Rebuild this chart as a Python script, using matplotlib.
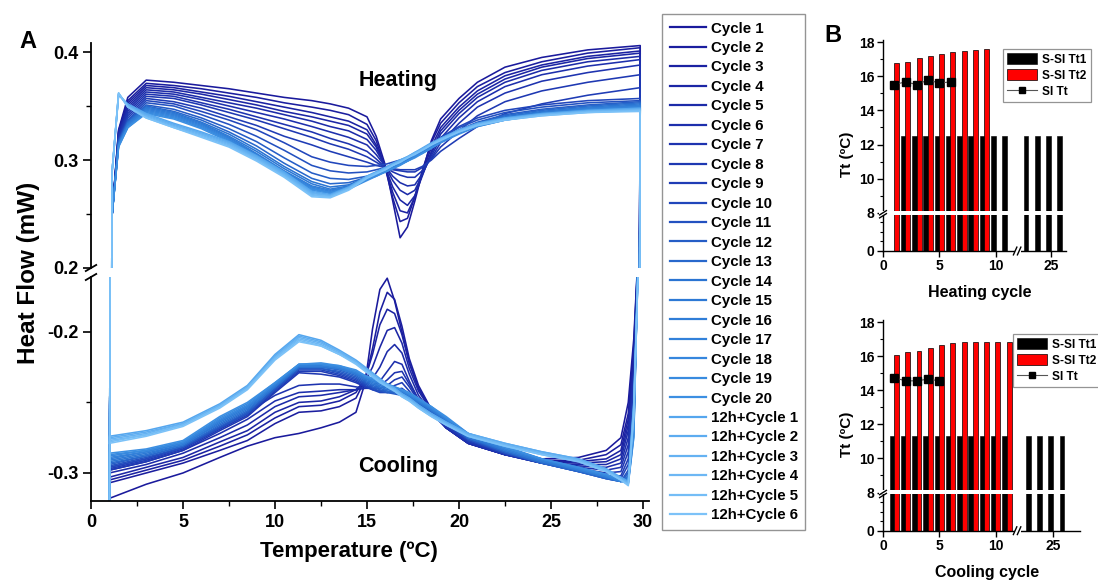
import numpy as np
import matplotlib
matplotlib.use("Agg")
import matplotlib.pyplot as plt
from matplotlib.colors import LinearSegmentedColormap
from matplotlib.lines import Line2D
from matplotlib.patches import Patch, Rectangle
from matplotlib.transforms import blended_transform_factory

plt.rcParams['font.family'] = ['Liberation Sans', 'DejaVu Sans']
plt.rcParams['font.weight'] = 'bold'
plt.rcParams['axes.unicode_minus'] = False

# ---------------------------------------------------------------- data
LABELS = [f"Cycle {i}" for i in range(1, 21)] + [f"12h+Cycle {i}" for i in range(1, 7)]

# temperature grids (ºC); heating runs up, cooling runs back down
HEAT_T = [1.0, 1.15, 1.5, 2, 3, 4.5, 6, 7.5, 9, 10.5, 12, 13, 14, 15, 15.5, 16, 16.4,
          16.8, 17.2, 17.6, 18, 18.5, 19, 20, 21, 22.5, 24.5, 27, 29.85]
COOL_T = [29.75, 29.5, 29.2, 28.8, 28, 26.5, 24.5, 22.5, 20.5, 19.3, 18.5, 17.8, 17.3,
          16.9, 16.5, 16.1, 15.7, 15.3, 14.9, 14.4, 13.5, 12.5, 11.3, 10, 8.5, 7, 5, 3, 1.0]

# heat flow in µW, one row per run (same order as LABELS)
HEATING = [
    [-330, 250, 328, 358, 374, 372, 369, 366, 362, 358, 355, 352, 348, 340, 322, 295, 262, 228, 238, 262, 288, 318, 338, 357, 372, 386, 395, 402, 406],
    [-330, 250, 327, 355, 371, 369, 366, 362, 358, 353, 349, 346, 342, 333, 318, 292, 265, 243, 246, 266, 290, 316, 334, 353, 368, 381, 391, 399, 404],
    [-330, 250, 326, 353, 369, 367, 363, 359, 354, 349, 344, 340, 336, 328, 314, 292, 270, 253, 251, 266, 287, 312, 330, 349, 364, 378, 388, 396, 401],
    [-330, 250, 325, 351, 367, 365, 361, 356, 351, 345, 340, 336, 332, 324, 312, 293, 275, 263, 258, 267, 285, 308, 327, 346, 361, 375, 386, 394, 399],
    [-330, 250, 324, 349, 365, 363, 358, 353, 348, 342, 336, 331, 327, 319, 309, 294, 281, 272, 268, 272, 286, 306, 324, 343, 358, 372, 383, 391, 396],
    [-330, 250, 323, 347, 363, 361, 356, 350, 344, 338, 331, 326, 321, 314, 305, 294, 285, 279, 276, 277, 287, 304, 320, 339, 354, 368, 379, 387, 393],
    [-330, 250, 322, 345, 361, 359, 353, 347, 340, 333, 326, 320, 315, 308, 301, 293, 289, 286, 284, 284, 290, 302, 316, 334, 349, 362, 373, 381, 388],
    [-330, 250, 321, 343, 359, 357, 351, 344, 337, 329, 321, 315, 310, 303, 298, 293, 291, 290, 289, 289, 293, 301, 312, 327, 341, 354, 364, 372, 379],
    [-330, 250, 320, 341, 357, 354, 348, 340, 332, 322, 314, 308, 303, 298, 295, 293, 292, 291, 291, 291, 294, 300, 308, 320, 331, 343, 352, 360, 367],
    [-330, 250, 319, 339, 355, 352, 345, 337, 328, 316, 303, 298, 295, 294, 295, 296, 298, 300, 302, 305, 309, 315, 321, 331, 339, 346, 351, 355, 357],
    [-330, 250, 318, 337, 353, 350, 342, 333, 322, 309, 295, 290, 288, 289, 291, 293, 296, 299, 302, 305, 309, 315, 320, 330, 337, 344, 349, 353, 355],
    [-330, 250, 317, 336, 351, 347, 339, 329, 317, 302, 288, 283, 282, 285, 288, 291, 294, 298, 301, 305, 309, 314, 319, 328, 335, 342, 347, 351, 354],
    [-330, 250, 316, 335, 350, 345, 337, 326, 313, 297, 283, 278, 279, 284, 287, 291, 294, 297, 301, 304, 308, 314, 319, 327, 334, 341, 346, 350, 353],
    [-330, 250, 315, 334, 349, 344, 335, 324, 310, 294, 280, 275, 277, 284, 287, 291, 294, 297, 301, 304, 308, 313, 318, 327, 334, 340, 345, 349, 352],
    [-330, 250, 315, 333, 348, 343, 334, 322, 308, 292, 278, 273, 276, 283, 287, 290, 294, 297, 300, 304, 308, 313, 318, 326, 333, 339, 344, 348, 351],
    [-330, 250, 314, 332, 347, 342, 333, 321, 306, 290, 276, 272, 275, 283, 286, 290, 293, 297, 300, 303, 307, 312, 317, 326, 333, 339, 344, 348, 350],
    [-330, 250, 314, 331, 346, 341, 332, 320, 305, 289, 275, 271, 275, 283, 286, 290, 293, 296, 300, 303, 307, 312, 317, 325, 332, 338, 343, 347, 350],
    [-330, 250, 313, 331, 345, 340, 331, 319, 304, 288, 274, 270, 274, 282, 286, 289, 293, 296, 299, 303, 307, 312, 317, 325, 332, 338, 343, 347, 349],
    [-330, 250, 313, 330, 344, 339, 330, 318, 303, 287, 273, 270, 274, 282, 285, 289, 292, 296, 299, 303, 306, 311, 316, 325, 331, 337, 342, 346, 348],
    [-330, 250, 312, 330, 343, 338, 329, 317, 302, 286, 272, 269, 273, 281, 285, 289, 292, 295, 299, 302, 306, 311, 316, 324, 331, 337, 342, 346, 348],
    [-330, 290, 360, 352, 343, 334, 326, 317, 304, 289, 271, 268, 275, 285, 289, 293, 297, 300, 303, 307, 311, 316, 320, 328, 334, 339, 343, 346, 348],
    [-330, 290, 361, 351, 342, 333, 325, 316, 303, 288, 270, 267, 274, 285, 289, 293, 296, 300, 303, 307, 310, 315, 320, 327, 333, 338, 342, 345, 347],
    [-330, 290, 361, 350, 341, 332, 324, 315, 302, 287, 269, 267, 274, 284, 288, 292, 296, 299, 303, 306, 310, 315, 319, 327, 333, 338, 342, 345, 347],
    [-330, 290, 362, 350, 340, 331, 323, 314, 301, 286, 268, 266, 273, 284, 288, 292, 295, 299, 302, 306, 310, 315, 319, 327, 333, 338, 342, 345, 346],
    [-330, 290, 362, 349, 339, 330, 322, 313, 300, 285, 267, 266, 273, 284, 288, 291, 295, 298, 302, 306, 309, 314, 319, 326, 332, 337, 341, 344, 346],
    [-330, 290, 362, 349, 339, 330, 321, 312, 299, 284, 266, 265, 272, 283, 287, 291, 295, 298, 302, 305, 309, 314, 318, 326, 332, 337, 341, 344, 345],
]

COOLING = [
    [-140, -205, -250, -275, -284, -289, -290, -286, -278, -268, -256, -240, -222, -200, -178, -162, -170, -198, -236, -257, -264, -268, -272, -275, -281, -289, -300, -308, -318],
    [-140, -210, -258, -280, -287, -291, -291, -287, -279, -268, -255, -238, -219, -196, -177, -172, -186, -212, -234, -247, -253, -256, -257, -265, -277, -284, -293, -300, -307],
    [-140, -215, -262, -284, -290, -292, -292, -287, -279, -268, -255, -240, -222, -202, -187, -184, -195, -216, -233, -243, -249, -252, -253, -261, -273, -281, -291, -298, -305],
    [-140, -220, -266, -287, -292, -293, -292, -287, -279, -268, -256, -242, -226, -208, -197, -199, -211, -225, -235, -241, -246, -249, -250, -257, -270, -278, -289, -296, -303],
    [-140, -225, -270, -290, -294, -294, -293, -287, -279, -268, -257, -245, -230, -215, -209, -214, -225, -233, -238, -241, -243, -245, -246, -253, -266, -275, -286, -294, -300],
    [-140, -230, -275, -293, -296, -295, -293, -287, -279, -268, -258, -248, -235, -223, -221, -228, -235, -238, -240, -241, -241, -242, -243, -249, -262, -272, -284, -292, -298],
    [-140, -235, -280, -296, -298, -296, -293, -287, -278, -267, -258, -248, -237, -228, -229, -234, -238, -240, -240, -239, -237, -237, -238, -245, -257, -268, -282, -290, -296],
    [-140, -240, -285, -299, -300, -297, -293, -287, -278, -267, -258, -249, -239, -232, -234, -238, -240, -240, -239, -236, -232, -230, -229, -243, -260, -270, -284, -292, -298],
    [-140, -245, -290, -302, -302, -298, -293, -286, -277, -266, -258, -250, -242, -236, -238, -241, -242, -241, -239, -235, -231, -228, -228, -242, -259, -269, -283, -291, -297],
    [-140, -250, -294, -304, -303, -299, -293, -286, -277, -265, -257, -250, -244, -240, -241, -243, -243, -241, -238, -234, -230, -227, -227, -241, -258, -268, -282, -290, -296],
    [-140, -255, -298, -306, -304, -299, -293, -286, -276, -265, -257, -251, -246, -243, -243, -243, -242, -240, -237, -233, -229, -226, -226, -241, -258, -268, -282, -289, -295],
    [-140, -260, -300, -306, -304, -299, -293, -285, -276, -264, -257, -251, -247, -245, -244, -243, -241, -239, -236, -232, -228, -226, -226, -240, -257, -267, -281, -288, -294],
    [-140, -262, -302, -306, -304, -299, -293, -285, -275, -264, -256, -251, -247, -245, -243, -242, -240, -238, -235, -231, -227, -225, -225, -239, -256, -266, -281, -288, -293],
    [-140, -264, -303, -306, -303, -298, -292, -284, -275, -263, -256, -250, -246, -244, -242, -241, -239, -237, -234, -230, -226, -225, -225, -239, -255, -265, -280, -287, -292],
    [-140, -266, -304, -306, -303, -298, -292, -284, -274, -263, -255, -250, -246, -243, -241, -240, -238, -236, -233, -230, -226, -224, -224, -238, -254, -264, -280, -286, -291],
    [-140, -268, -305, -306, -303, -298, -291, -283, -274, -262, -255, -249, -245, -243, -241, -239, -237, -235, -233, -229, -226, -224, -224, -238, -253, -263, -279, -285, -290],
    [-140, -270, -306, -306, -302, -297, -291, -283, -273, -262, -254, -249, -245, -242, -240, -238, -236, -235, -232, -229, -225, -223, -224, -237, -253, -263, -279, -285, -289],
    [-140, -272, -307, -306, -302, -297, -290, -282, -273, -261, -254, -248, -244, -242, -240, -238, -236, -234, -232, -228, -225, -223, -223, -237, -252, -262, -278, -284, -288],
    [-140, -274, -307, -305, -301, -296, -290, -282, -272, -261, -253, -248, -244, -241, -239, -237, -235, -233, -231, -228, -224, -223, -223, -236, -251, -261, -278, -284, -287],
    [-140, -275, -308, -305, -301, -296, -290, -281, -272, -260, -253, -247, -243, -241, -239, -237, -235, -233, -231, -227, -224, -222, -223, -236, -250, -260, -277, -283, -286],
    [-150, -250, -306, -303, -297, -290, -285, -279, -272, -264, -258, -252, -247, -244, -240, -237, -233, -229, -225, -220, -213, -206, -202, -216, -238, -251, -264, -270, -274],
    [-150, -252, -307, -304, -297, -290, -285, -279, -272, -264, -258, -252, -247, -244, -240, -237, -234, -230, -226, -221, -214, -207, -203, -217, -239, -252, -265, -271, -275],
    [-150, -254, -307, -304, -298, -291, -286, -280, -273, -265, -259, -253, -248, -245, -241, -238, -234, -230, -226, -221, -214, -208, -204, -218, -239, -252, -265, -272, -276],
    [-150, -256, -308, -305, -298, -291, -286, -280, -273, -265, -259, -253, -248, -245, -241, -238, -235, -231, -227, -222, -215, -209, -205, -218, -240, -253, -266, -273, -277],
    [-150, -258, -308, -305, -299, -292, -287, -281, -274, -266, -260, -254, -249, -246, -242, -239, -235, -231, -227, -222, -216, -210, -206, -219, -240, -253, -266, -273, -278],
    [-150, -260, -309, -305, -299, -292, -287, -281, -274, -266, -260, -254, -249, -246, -242, -239, -236, -232, -228, -223, -216, -210, -207, -220, -241, -254, -267, -274, -279],
]

# transition temperatures (ºC) per cycle
HEAT_TT1_CYCLE = [2, 3, 4, 5, 6, 7, 8, 9, 10, 11, 23, 24, 25, 26]
HEAT_TT1 = [12.47, 12.47, 12.47, 12.47, 12.47, 12.47, 12.47, 12.47, 12.47, 12.47, 12.47, 12.47, 12.47, 12.47]
HEAT_TT2_CYCLE = [1, 2, 3, 4, 5, 6, 7, 8, 9]
HEAT_TT2 = [16.76, 16.86, 17.04, 17.20, 17.31, 17.43, 17.49, 17.53, 17.57]
HEAT_SI_CYCLE = [1, 2, 3, 4, 5, 6]
HEAT_SI = [15.51, 15.67, 15.51, 15.78, 15.60, 15.67]

COOL_TT1_CYCLE = [1, 2, 3, 4, 5, 6, 7, 8, 9, 10, 11, 23, 24, 25, 26]
COOL_TT1 = [11.29, 11.29, 11.29, 11.29, 11.29, 11.29, 11.29, 11.29, 11.29, 11.29, 11.29, 11.29, 11.29, 11.29, 11.29]
COOL_TT2_CYCLE = [1, 2, 3, 4, 5, 6, 7, 8, 9, 10, 11]
COOL_TT2 = [16.06, 16.25, 16.30, 16.50, 16.65, 16.75, 16.80, 16.85, 16.85, 16.85, 16.85]
COOL_SI_CYCLE = [1, 2, 3, 4, 5]
COOL_SI = [14.73, 14.55, 14.55, 14.65, 14.55]

# ---------------------------------------------------------------- figure
W, H = 1098, 581
fig = plt.figure(figsize=(W / 100, H / 100), dpi=100)


def rect_px(left, top, right, bottom):
    """Axes rectangle from pixel edges measured from the top-left corner."""
    return [left / W, 1 - bottom / H, (right - left) / W, (bottom - top) / H]


def px_line(p0, p1, lw=1.3, color='black'):
    fig.add_artist(Line2D([p0[0] / W, p1[0] / W], [1 - p0[1] / H, 1 - p1[1] / H],
                          transform=fig.transFigure, color=color, lw=lw,
                          solid_capstyle='butt', zorder=20))


def px_white(left, top, right, bottom):
    fig.add_artist(Rectangle((left / W, 1 - bottom / H), (right - left) / W, (bottom - top) / H,
                             transform=fig.transFigure, facecolor='white',
                             edgecolor='none', zorder=19))


# ---------------------------------------------------------------- panel A
cmap = LinearSegmentedColormap.from_list(
    'runs', [(0.0, '#1a1a9c'), (0.33, '#1f3db6'), (0.52, '#2a74d2'),
             (0.76, '#3b8fe2'), (0.80, '#55a6ee'), (1.0, '#7cc2f8')])
colors = [cmap(i / (len(LABELS) - 1)) for i in range(len(LABELS))]

ax_hi = fig.add_axes(rect_px(91, 43.4, 648.5, 268))
ax_lo = fig.add_axes(rect_px(91, 276.8, 648.5, 501.2))

temps = np.concatenate([HEAT_T, COOL_T])
handles = []
for i, lab in enumerate(LABELS):
    flow = np.concatenate([HEATING[i], COOLING[i]]) / 1000.0
    for ax in (ax_hi, ax_lo):
        ax.plot(temps, flow, color=colors[i], lw=1.15, solid_joinstyle='round')
    handles.append(Line2D([], [], color=colors[i], lw=1.6))

ax_hi.set_xlim(0, 30.3)
ax_lo.set_xlim(0, 30.3)
ax_hi.set_ylim(0.2, 0.408)
ax_lo.set_ylim(-0.32, -0.161)

for ax in (ax_hi, ax_lo):
    for s in ('top', 'right'):
        ax.spines[s].set_visible(False)
    for s in ('left', 'bottom'):
        ax.spines[s].set_linewidth(1.3)
    ax.tick_params(which='major', direction='out', length=6, width=1.2, labelsize=13, pad=3)
    ax.tick_params(which='minor', direction='out', length=3.5, width=1.0)

ax_hi.spines['bottom'].set_visible(False)
ax_hi.tick_params(axis='x', which='both', bottom=False, labelbottom=False)
ax_hi.set_yticks([0.2, 0.3, 0.4])
ax_hi.set_yticklabels(['0.2', '0.3', '0.4'])
ax_hi.set_yticks([0.25, 0.35], minor=True)
ax_lo.set_yticks([-0.3, -0.2])
ax_lo.set_yticklabels(['-0.3', '-0.2'])
ax_lo.set_yticks([-0.25], minor=True)
ax_lo.set_xticks([0, 5, 10, 15, 20, 25, 30])
ax_lo.set_xticks(np.arange(2.5, 30, 5), minor=True)

# axis break marks on the left spine
px_white(85, 268.5, 97, 276.3)
px_line((85, 271.5), (97, 264.5))
px_line((85, 280.5), (97, 273.5))

ax_hi.text(16.7, 0.374, 'Heating', fontsize=15.5, fontweight='bold', ha='center', va='center')
ax_lo.text(16.7, -0.2955, 'Cooling', fontsize=15.5, fontweight='bold', ha='center', va='center')

fig.text(29 / W, 1 - 273 / H, 'Heat Flow (mW)', rotation=90, fontsize=17.5,
         fontweight='bold', ha='center', va='center')
fig.text(349 / W, 1 - 552 / H, 'Temperature (ºC)', fontsize=16,
         fontweight='bold', ha='center', va='center')
fig.text(28 / W, 1 - 41 / H, 'A', fontsize=17, fontweight='bold', ha='center', va='center')

leg = fig.legend(handles, LABELS, loc='upper left', bbox_to_anchor=(662 / W, 1 - 14 / H),
                 frameon=True, fancybox=False, edgecolor='#7a7a7a', fontsize=10.8,
                 handlelength=2.4, handletextpad=0.35, labelspacing=0.365,
                 borderpad=0.5, borderaxespad=0)
leg.get_frame().set_linewidth(1.0)
for t in leg.get_texts():
    t.set_fontweight('bold')

# ---------------------------------------------------------------- panel B
Y_LOW = 0.28   # compression of the 0-8 ºC stretch below the break


def y_fwd(y):
    y = np.asarray(y, dtype=float)
    return np.where(y <= 8, Y_LOW * y, 8 * Y_LOW + (y - 8))


def y_inv(f):
    f = np.asarray(f, dtype=float)
    return np.where(f <= 8 * Y_LOW, f / Y_LOW, 8 + (f - 8 * Y_LOW))


def make_x_scale(right_start):
    def fwd(x):
        x = np.asarray(x, dtype=float)
        mid = 11.9 + (x - 11.9) * 0.2 / (right_start - 11.9)
        return np.where(x <= 11.9, x, np.where(x >= right_start, 12.1 + (x - right_start), mid))

    def inv(f):
        f = np.asarray(f, dtype=float)
        mid = 11.9 + (f - 11.9) * (right_start - 11.9) / 0.2
        return np.where(f <= 11.9, f, np.where(f >= 12.1, right_start + (f - 12.1), mid))
    return fwd, inv


def panel_b(left, top, right, bottom, right_start, xmax,
            tt1_c, tt1, tt2_c, tt2, si_c, si, xlabel, leg_px):
    ax = fig.add_axes(rect_px(left, top, right, bottom))
    fwd, inv = make_x_scale(right_start)
    ax.set_xscale('function', functions=(fwd, inv))
    ax.set_yscale('function', functions=(y_fwd, y_inv))

    ax.bar(np.array(tt1_c) - 0.2, tt1, width=0.44, color='black', edgecolor='black',
           linewidth=0.4, zorder=2)
    ax.bar(np.array(tt2_c) + 0.2, tt2, width=0.44, color='#ff0000', edgecolor='black',
           linewidth=0.5, zorder=2.2)
    ax.plot(si_c, si, color='#555555', lw=0.8, marker='s', ms=5.5, mfc='black',
            mec='black', zorder=4)

    ax.set_xlim(0, xmax)
    ax.set_ylim(0, 18.1)
    for s in ('top', 'right'):
        ax.spines[s].set_visible(False)
    for s in ('left', 'bottom'):
        ax.spines[s].set_linewidth(1.0)
    ax.set_xticks([0, 5, 10, 25])
    ax.set_xticklabels(['0', '5', '10', '25'])
    ax.set_yticks([0, 8, 10, 12, 14, 16, 18])
    ax.set_yticklabels(['0', '8', '10', '12', '14', '16', '18'])
    ax.set_yticks([2, 4, 6, 9, 11, 13, 15, 17], minor=True)
    ax.set_xticks([], minor=True)
    ax.tick_params(which='major', direction='out', length=4, width=1.0, labelsize=10, pad=2)
    ax.tick_params(which='minor', direction='out', length=2.5, width=0.8)

    # white gap across the bars at the y break
    band = Rectangle((-0.02, 7.6), 1.02, 0.52,
                     transform=blended_transform_factory(ax.transAxes, ax.transData),
                     facecolor='white', edgecolor='none', zorder=6, clip_on=False)
    ax.add_patch(band)

    # break marks: y axis at 8, x axis between 11 and 23
    y8 = bottom - (bottom - top) * float(y_fwd(8)) / float(y_fwd(18.1))
    px_line((left - 4, y8 + 2.5), (left + 4, y8 - 2.5), lw=1.0)
    px_line((left - 4, y8 + 5.5), (left + 4, y8 + 0.5), lw=1.0)
    xb = left + (right - left) * 12.0 / float(fwd(xmax))
    px_white(xb - 3, bottom - 2, xb + 3, bottom + 2)
    px_line((xb - 5, bottom + 4.5), (xb - 1, bottom - 4.5), lw=1.0)
    px_line((xb - 1, bottom + 4.5), (xb + 3, bottom - 4.5), lw=1.0)

    hdl = [Patch(facecolor='black', edgecolor='black', linewidth=0.4),
           Patch(facecolor='#ff0000', edgecolor='black', linewidth=0.5),
           Line2D([], [], color='#555555', lw=0.8, marker='s', ms=5, mfc='black', mec='black')]
    lg = ax.legend(hdl, ['S-SI Tt1', 'S-SI Tt2', 'SI Tt'], loc='upper left',
                   bbox_to_anchor=(leg_px[0] / W, 1 - leg_px[1] / H),
                   bbox_transform=fig.transFigure, frameon=True, fancybox=False,
                   edgecolor='#7a7a7a', fontsize=8.6, handlelength=2.5, handleheight=1.05,
                   handletextpad=0.45, labelspacing=0.3, borderpad=0.35, borderaxespad=0)
    lg.get_frame().set_linewidth(0.9)
    lg.set_zorder(30)
    for t in lg.get_texts():
        t.set_fontweight('bold')

    fig.text((left + right) / 2 / W + 0.005, 1 - (bottom + 42) / H, xlabel, fontsize=11.5,
             fontweight='bold', ha='center', va='center')
    fig.text((left - 36) / W, 1 - (top + bottom) / 2 / H - 0.015, 'Tt (ºC)', rotation=90,
             fontsize=11, fontweight='bold', ha='center', va='center')
    return ax


panel_b(883, 40.4, 1066, 251, 22.2, 26.35,
        HEAT_TT1_CYCLE, HEAT_TT1, HEAT_TT2_CYCLE, HEAT_TT2, HEAT_SI_CYCLE, HEAT_SI,
        'Heating cycle', (1003, 49))
panel_b(883, 320.3, 1080, 530.7, 22.0, 27.4,
        COOL_TT1_CYCLE, COOL_TT1, COOL_TT2_CYCLE, COOL_TT2, COOL_SI_CYCLE, COOL_SI,
        'Cooling cycle', (1013, 334))

fig.text(833 / W, 1 - 36 / H, 'B', fontsize=17, fontweight='bold', ha='center', va='center')

fig.savefig('out.png', dpi=100, facecolor='white')
